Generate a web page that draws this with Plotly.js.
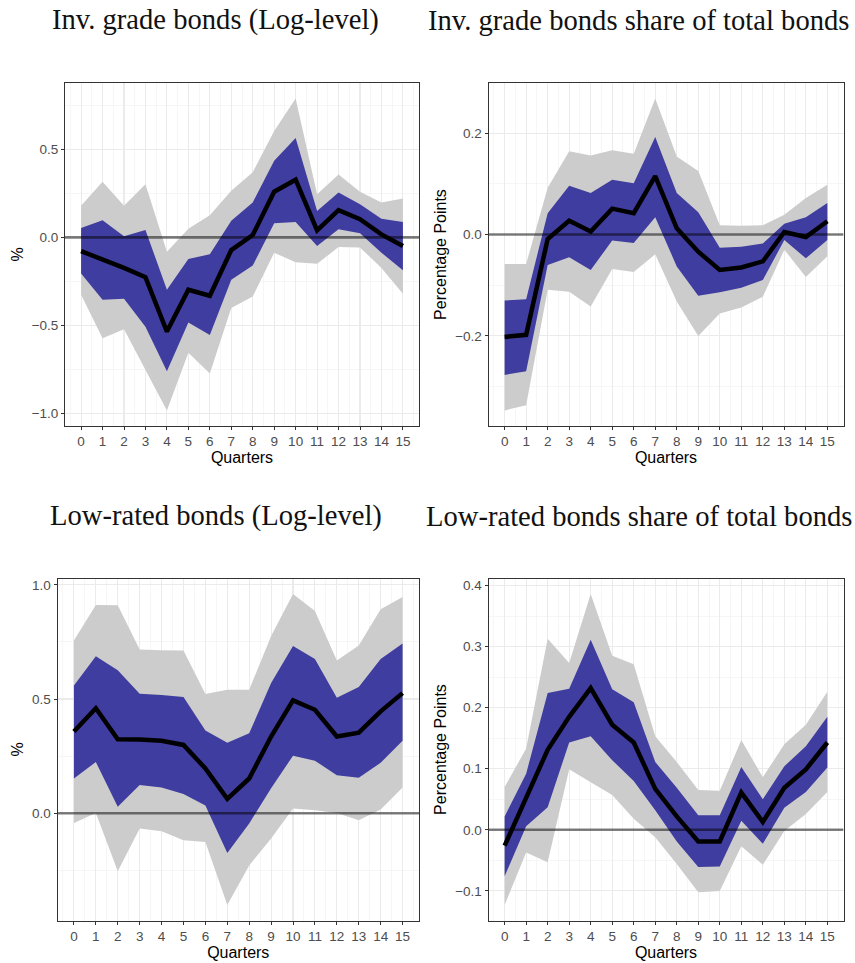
<!DOCTYPE html>
<html>
<head>
<meta charset="utf-8">
<script src="https://cdn.plot.ly/plotly-3.0.1.min.js"></script>
<style>html,body{margin:0;padding:0;background:#fff;}#chart{width:855px;height:963px;}</style>
</head>
<body>
<div id="chart"></div>
<script>
// ---------------- data ----------------
const quarters = [0,1,2,3,4,5,6,7,8,9,10,11,12,13,14,15];
const quarterLabels = ["0","1","2","3","4","5","6","7","8","9","10","11","12","13","14","15"];

const panelTitles = [
  "Inv. grade bonds (Log-level)",
  "Inv. grade bonds share of total bonds",
  "Low-rated bonds (Log-level)",
  "Low-rated bonds share of total bonds"
];
const yTitles = ["%", "Percentage Points", "%", "Percentage Points"];
const xTitle = "Quarters";

// Panel 1: Inv. grade bonds (Log-level)
const igLevel_irf  = [-0.078,-0.125,-0.173,-0.226,-0.534,-0.297,-0.331,-0.072,0.013,0.259,0.327,0.040,0.154,0.103,0.017,-0.049];
const igLevel_hi68 = [0.053,0.097,0.006,0.042,-0.297,-0.122,-0.095,0.095,0.198,0.435,0.563,0.150,0.255,0.188,0.106,0.087];
const igLevel_lo68 = [-0.205,-0.354,-0.348,-0.506,-0.759,-0.483,-0.553,-0.240,-0.160,0.080,0.087,-0.049,0.046,0.023,-0.087,-0.186];
const igLevel_hi90 = [0.179,0.316,0.179,0.302,-0.082,0.049,0.125,0.264,0.369,0.603,0.787,0.245,0.356,0.259,0.198,0.221];
const igLevel_lo90 = [-0.325,-0.572,-0.521,-0.753,-0.981,-0.654,-0.772,-0.401,-0.335,-0.087,-0.141,-0.150,-0.055,-0.057,-0.173,-0.319];

// Panel 2: Inv. grade bonds share of total bonds
const igShare_irf  = [-0.202,-0.198,-0.009,0.027,0.006,0.051,0.042,0.115,0.012,-0.034,-0.070,-0.065,-0.053,0.005,-0.005,0.026];
const igShare_hi68 = [-0.130,-0.128,0.042,0.096,0.082,0.108,0.101,0.192,0.082,0.044,-0.026,-0.024,-0.018,0.021,0.034,0.062];
const igShare_lo68 = [-0.277,-0.270,-0.060,-0.045,-0.070,-0.012,-0.017,0.034,-0.063,-0.121,-0.114,-0.105,-0.090,-0.011,-0.047,-0.011];
const igShare_hi90 = [-0.058,-0.058,0.092,0.164,0.156,0.166,0.159,0.268,0.154,0.125,0.018,0.017,0.018,0.039,0.072,0.098];
const igShare_lo90 = [-0.347,-0.337,-0.109,-0.113,-0.142,-0.068,-0.074,-0.039,-0.132,-0.200,-0.156,-0.144,-0.123,-0.030,-0.084,-0.043];

// Panel 3: Low-rated bonds (Log-level)
const lrLevel_irf  = [0.358,0.460,0.324,0.323,0.317,0.299,0.196,0.063,0.152,0.336,0.494,0.453,0.336,0.353,0.446,0.526];
const lrLevel_hi68 = [0.559,0.688,0.626,0.523,0.518,0.509,0.362,0.309,0.350,0.570,0.732,0.676,0.506,0.553,0.676,0.743];
const lrLevel_lo68 = [0.152,0.224,0.028,0.123,0.113,0.084,0.034,-0.174,-0.045,0.109,0.252,0.230,0.166,0.155,0.221,0.317];
const lrLevel_hi90 = [0.757,0.912,0.911,0.717,0.714,0.713,0.522,0.541,0.541,0.776,0.960,0.886,0.669,0.735,0.893,0.947];
const lrLevel_lo90 = [-0.043,0.001,-0.254,-0.067,-0.079,-0.119,-0.126,-0.402,-0.229,-0.111,0.021,0.013,0.001,-0.031,0.016,0.113];

// Panel 4: Low-rated bonds share of total bonds
const lrShare_irf  = [-0.026,0.051,0.131,0.185,0.232,0.172,0.143,0.067,0.022,-0.019,-0.019,0.061,0.013,0.069,0.099,0.143];
const lrShare_hi68 = [0.022,0.092,0.224,0.231,0.311,0.230,0.209,0.111,0.069,0.024,0.024,0.103,0.050,0.104,0.137,0.185];
const lrShare_lo68 = [-0.076,0.006,0.037,0.143,0.153,0.114,0.080,0.032,-0.019,-0.061,-0.060,0.015,-0.023,0.036,0.062,0.102];
const lrShare_hi90 = [0.070,0.133,0.313,0.273,0.386,0.285,0.271,0.153,0.111,0.065,0.064,0.147,0.086,0.140,0.172,0.226];
const lrShare_lo90 = [-0.123,-0.037,-0.053,0.099,0.078,0.057,0.018,-0.012,-0.056,-0.102,-0.100,-0.027,-0.057,-0.002,0.026,0.062];

// ---------------- build ----------------
const panels = [
  {irf: igLevel_irf, hi68: igLevel_hi68, lo68: igLevel_lo68, hi90: igLevel_hi90, lo90: igLevel_lo90},
  {irf: igShare_irf, hi68: igShare_hi68, lo68: igShare_lo68, hi90: igShare_hi90, lo90: igShare_lo90},
  {irf: lrLevel_irf, hi68: lrLevel_hi68, lo68: lrLevel_lo68, hi90: lrLevel_hi90, lo90: lrLevel_lo90},
  {irf: lrShare_irf, hi68: lrShare_hi68, lo68: lrShare_lo68, hi90: lrShare_hi90, lo90: lrShare_lo90}
];

const W = 855, H = 963;
const geo = [
  {l: 65, r: 419, t: 83, b: 426, ytick: 0.5, yminor0: 0.25},
  {l: 488.5, r: 843.5, t: 83, b: 426, ytick: 0.2, yminor0: 0.1},
  {l: 57.5, r: 419, t: 578.5, b: 920.5, ytick: 0.5, yminor0: 0.25},
  {l: 488.5, r: 843.5, t: 578.5, b: 920.5, ytick: 0.1, yminor0: 0.05}
];
const titlePos = [
  {x: 215.5, y: 20}, {x: 638, y: 20}, {x: 216, y: 516}, {x: 638.5, y: 516}
];

const GRAY = "rgb(204,204,204)";
const BLUE = "rgb(63,61,159)";

function padRange(arr1, arr2) {
  const mn = Math.min(...arr1), mx = Math.max(...arr2);
  const e = 0.05 * (mx - mn);
  return [mn - e, mx + e];
}
const xr = [quarters[0] - 0.05 * (quarters[quarters.length-1] - quarters[0]),
            quarters[quarters.length-1] + 0.05 * (quarters[quarters.length-1] - quarters[0])];

const traces = [];
const layout = {
  width: W, height: H,
  margin: {l: 0, r: 0, t: 0, b: 0},
  paper_bgcolor: "#fff",
  plot_bgcolor: "#fff",
  showlegend: false,
  font: {family: "Liberation Sans, Arial, sans-serif", color: "#000"},
  annotations: []
};

panels.forEach((p, i) => {
  const n = i + 1;
  const xa = n === 1 ? "x" : "x" + n;
  const ya = n === 1 ? "y" : "y" + n;
  const common = {x: quarters, xaxis: xa, yaxis: ya, hoverinfo: "skip", mode: "lines"};
  traces.push(Object.assign({}, common, {y: p.lo90, line: {width: 0, color: GRAY}}));
  traces.push(Object.assign({}, common, {y: p.hi90, line: {width: 0, color: GRAY}, fill: "tonexty", fillcolor: GRAY}));
  traces.push(Object.assign({}, common, {y: p.lo68, line: {width: 0, color: BLUE}}));
  traces.push(Object.assign({}, common, {y: p.hi68, line: {width: 0, color: BLUE}, fill: "tonexty", fillcolor: BLUE}));
  traces.push({x: xr, y: [0, 0], xaxis: xa, yaxis: ya, mode: "lines", hoverinfo: "skip",
               line: {color: "rgba(0,0,0,0.5)", width: 2.6}});
  traces.push(Object.assign({}, common, {y: p.irf, line: {color: "#000", width: 4.5}}));

  const g = geo[i];
  const axBase = {
    showline: true, mirror: true, linecolor: "#333333", linewidth: 1,
    ticks: "outside", ticklen: 3, tickwidth: 1, tickcolor: "#333333",
    showgrid: true, gridcolor: "#EBEBEB", gridwidth: 1.1,
    zeroline: false,
    tickfont: {size: 13.5, color: "#4D4D4D", family: "Liberation Sans, Arial, sans-serif"}
  };
  layout["xaxis" + (n === 1 ? "" : n)] = Object.assign({}, axBase, {
    domain: [g.l / W, g.r / W],
    anchor: ya,
    range: xr,
    tickmode: "array", tickvals: quarters, ticktext: quarterLabels,
    minor: {tick0: 0.5, dtick: 1, showgrid: true, gridcolor: "#F2F2F2", gridwidth: 0.7, ticks: ""},
    title: {text: xTitle, standoff: 3, font: {size: 16, color: "#000"}}
  });
  layout["yaxis" + (n === 1 ? "" : n)] = Object.assign({}, axBase, {
    domain: [(H - g.b) / H, (H - g.t) / H],
    anchor: xa,
    range: padRange(p.lo90, p.hi90),
    dtick: g.ytick, tick0: 0, tickformat: ".1f",
    minor: {tick0: g.yminor0, dtick: g.ytick, showgrid: true, gridcolor: "#F2F2F2", gridwidth: 0.7, ticks: ""},
    title: {text: yTitles[i], standoff: 4, font: {size: 16, color: "#000"}}
  });
  layout.annotations.push({
    text: panelTitles[i], xref: "paper", yref: "paper",
    x: titlePos[i].x / W, y: 1 - titlePos[i].y / H,
    xanchor: "center", yanchor: "middle", showarrow: false,
    font: {family: "Liberation Serif, Times New Roman, serif", size: 28.6, color: "#111"}
  });
});

Plotly.newPlot("chart", traces, layout, {staticPlot: true, displayModeBar: false});
</script>
</body>
</html>
